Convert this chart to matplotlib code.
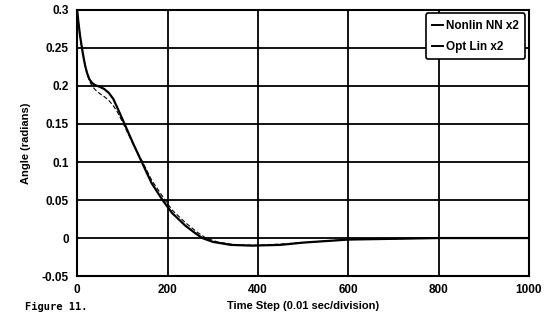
import numpy as np
import matplotlib
matplotlib.use("Agg")
import matplotlib.pyplot as plt

plt.rcParams["font.family"] = ["Liberation Sans", "DejaVu Sans"]
plt.rcParams["font.weight"] = "bold"

# Nonlin NN x2 (solid)
t_nn = [0, 3, 6, 9, 12, 15, 18, 22, 27, 33, 40, 50, 60, 70, 80, 90, 105, 125,
        143, 165, 189, 210, 240, 260, 277, 300, 340, 387, 450, 500, 550, 600,
        700, 800, 1000]
y_nn = [0.3, 0.283, 0.268, 0.256, 0.245, 0.235, 0.226, 0.217, 0.209, 0.204,
        0.201, 0.199, 0.196, 0.191, 0.183, 0.17, 0.15, 0.123, 0.1, 0.072, 0.05,
        0.033, 0.016, 0.007, 0.0, -0.005, -0.009, -0.010, -0.009, -0.006,
        -0.004, -0.002, -0.001, 0.0, 0.0]

# Opt Lin x2 (thin dashed)
t_lin = [0, 3, 6, 9, 12, 15, 18, 22, 27, 33, 40, 50, 60, 70, 80, 90, 105, 125,
         145, 165, 190, 210, 240, 265, 285, 310, 350, 400, 450, 500, 550, 600,
         700, 800, 1000]
y_lin = [0.3, 0.283, 0.268, 0.256, 0.245, 0.235, 0.226, 0.216, 0.207, 0.2,
         0.195, 0.19, 0.186, 0.181, 0.174, 0.165, 0.147, 0.122, 0.1, 0.076,
         0.054, 0.037, 0.02, 0.008, 0.0, -0.005, -0.009, -0.0095, -0.008,
         -0.006, -0.004, -0.002, -0.001, 0.0, 0.0]

xticks = [0, 200, 400, 600, 800, 1000]
yticks = [-0.05, 0, 0.05, 0.1, 0.15, 0.2, 0.25, 0.3]
ytick_labels = ["-0.05", "0", "0.05", "0.1", "0.15", "0.2", "0.25", "0.3"]

fig = plt.figure(figsize=(5.51, 3.21), dpi=100)
ax = fig.add_axes([0.14, 0.14, 0.82, 0.829])

ax.plot(t_nn, y_nn, color="black", lw=1.6, label="Nonlin NN x2")
ax.plot(t_lin, y_lin, color="black", lw=0.8, ls=(0, (4, 2)), label="Opt Lin x2")

ax.set_xlim(0, 1000)
ax.set_ylim(-0.05, 0.3)
ax.set_xticks(xticks)
ax.set_yticks(yticks)
ax.set_yticklabels(ytick_labels)
ax.tick_params(length=0, labelsize=8.5, pad=6)
ax.grid(True, color="black", lw=1.3)
for s in ax.spines.values():
    s.set_linewidth(1.5)

ax.set_xlabel("Time Step (0.01 sec/division)", fontsize=8, fontweight="bold", labelpad=3)
ax.set_ylabel("Angle (radians)", fontsize=8, fontweight="bold", labelpad=8)

leg = ax.legend(loc="upper right", fontsize=8.5, handlelength=0.9, handletextpad=0.25,
                borderaxespad=0.3, fancybox=True, framealpha=1, edgecolor="black",
                borderpad=0.55, labelspacing=0.75)
leg.get_frame().set_linewidth(1.2)
for txt in leg.get_texts():
    txt.set_fontweight("bold")
for ln in leg.get_lines():
    ln.set_linestyle("-")
    ln.set_linewidth(1.4)

fig.text(0.045, 0.035, "Figure 11.", family="DejaVu Sans Mono", fontsize=7.5,
         fontweight="bold")

fig.savefig("out.png", dpi=100)
